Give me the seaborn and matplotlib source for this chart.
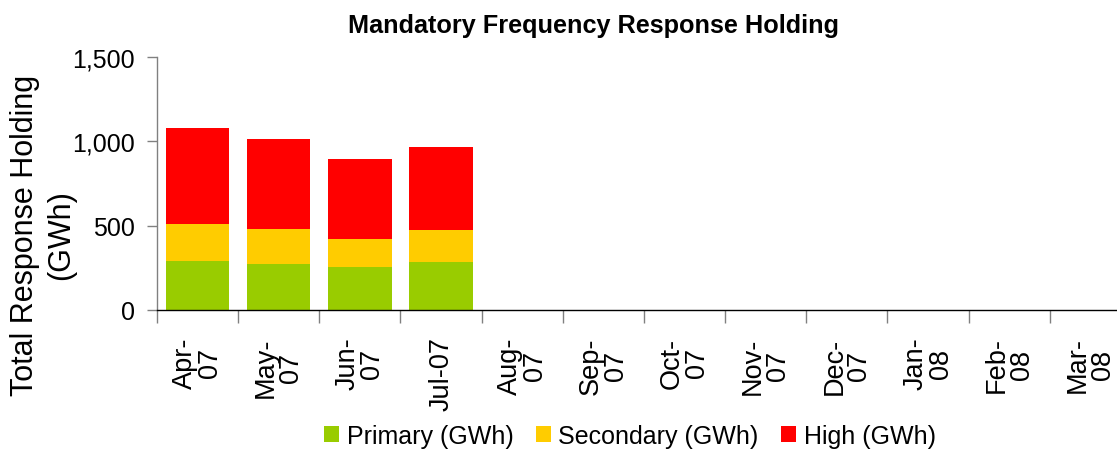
import matplotlib
matplotlib.use("Agg")
import matplotlib.pyplot as plt
from matplotlib import font_manager
from matplotlib.patches import Patch
import seaborn as sns
import pandas as pd
import numpy as np

# ---- data ----
months = ["Apr-\n07", "May-\n07", "Jun-\n07", "Jul-07", "Aug-\n07", "Sep-\n07",
          "Oct-\n07", "Nov-\n07", "Dec-\n07", "Jan-\n08", "Feb-\n08", "Mar-\n08"]
primary = [291, 273, 255, 285, 0, 0, 0, 0, 0, 0, 0, 0]
secondary = [220, 208, 167, 190, 0, 0, 0, 0, 0, 0, 0, 0]
high = [570, 535, 475, 493, 0, 0, 0, 0, 0, 0, 0, 0]
series_names = ["Primary (GWh)", "Secondary (GWh)", "High (GWh)"]
colors = ["#99CC00", "#FFCC00", "#FF0000"]
yticks = [0, 500, 1000, 1500]

sns.set_theme(style="white")
plt.rcParams["font.family"] = ["Liberation Sans", "DejaVu Sans"]
plt.rcParams["text.color"] = "black"
plt.rcParams["xtick.labelcolor"] = "black"
plt.rcParams["ytick.labelcolor"] = "black"

def has_font(name):
    try:
        font_manager.findfont(font_manager.FontProperties(family=name), fallback_to_default=False)
        return True
    except Exception:
        return False

narrow = has_font("Liberation Sans Narrow")

df = pd.DataFrame({"month": months, "primary": primary,
                   "secondary": secondary, "high": high})
df["cum2"] = df["primary"] + df["secondary"]
df["cum3"] = df["cum2"] + df["high"]

fig = plt.figure(figsize=(11.17, 4.52), dpi=100)
ax = fig.add_axes([157 / 1117, 141 / 452, 974 / 1117, 253 / 452])

for col, c in zip(["cum3", "cum2", "primary"], colors[::-1]):
    sns.barplot(data=df, x="month", y=col, order=months, color=c, saturation=1,
                width=0.78, errorbar=None, ax=ax, linewidth=0)

ax.set_xlim(-0.5, 11.5)
ax.set_ylim(0, 1500)
ax.set_yticks(yticks)
ax.set_yticklabels([f"{v:,}" for v in yticks], fontsize=18, color="black")
ax.set_xlabel("")
ax.set_ylabel("")

# category boundaries as major ticks, labels at centers
ax.set_xticks(np.arange(-0.5, 12, 1.0))
ax.set_xticklabels([])
ax.set_xticks(np.arange(12), minor=True)
ax.set_xticklabels(months, minor=True, rotation=90, fontsize=19.5, color="black",
                   va="top", ha="center", multialignment="center", linespacing=0.95)
ax.tick_params(axis="x", which="minor", length=0, pad=19)
ax.tick_params(axis="x", which="major", length=9, width=1, color="#808080",
               direction="out", bottom=True)
ax.tick_params(axis="y", length=7, width=1, color="#808080", direction="out",
               left=True, pad=9)

for s in ["top", "right"]:
    ax.spines[s].set_visible(False)
ax.spines["left"].set_color("#808080")
ax.spines["bottom"].set_color("#000000")
ax.spines["left"].set_linewidth(1)
ax.spines["bottom"].set_linewidth(1)
ax.grid(False)

if narrow:
    fig.text(592 / 1117, 1 - 26 / 452, "Mandatory Frequency Response Holding",
             ha="center", va="center", fontsize=22, fontweight="bold", color="black",
             family=["Liberation Sans Narrow", "DejaVu Sans"])
else:
    fig.text(593 / 1117, 1 - 26 / 452, "Mandatory Frequency Response Holding",
             ha="center", va="center", fontsize=18.2, fontweight="bold", color="black")

fig.text(43 / 1117, 1 - 235 / 452, "Total Response Holding\n(GWh)", rotation=90,
         ha="center", va="center", multialignment="center", fontsize=22,
         linespacing=1.25, color="black")

handles = [Patch(facecolor=c, edgecolor="none") for c in colors]
leg = fig.legend(handles, series_names, loc="center", bbox_to_anchor=(630 / 1117, 1 - 437 / 452),
                 ncol=3, frameon=False, fontsize=18, handlelength=0.6, handleheight=0.6,
                 handletextpad=0.3, columnspacing=0.9, borderpad=0, borderaxespad=0)
for t in leg.get_texts():
    t.set_color("black")

fig.savefig("out.png", dpi=100)
